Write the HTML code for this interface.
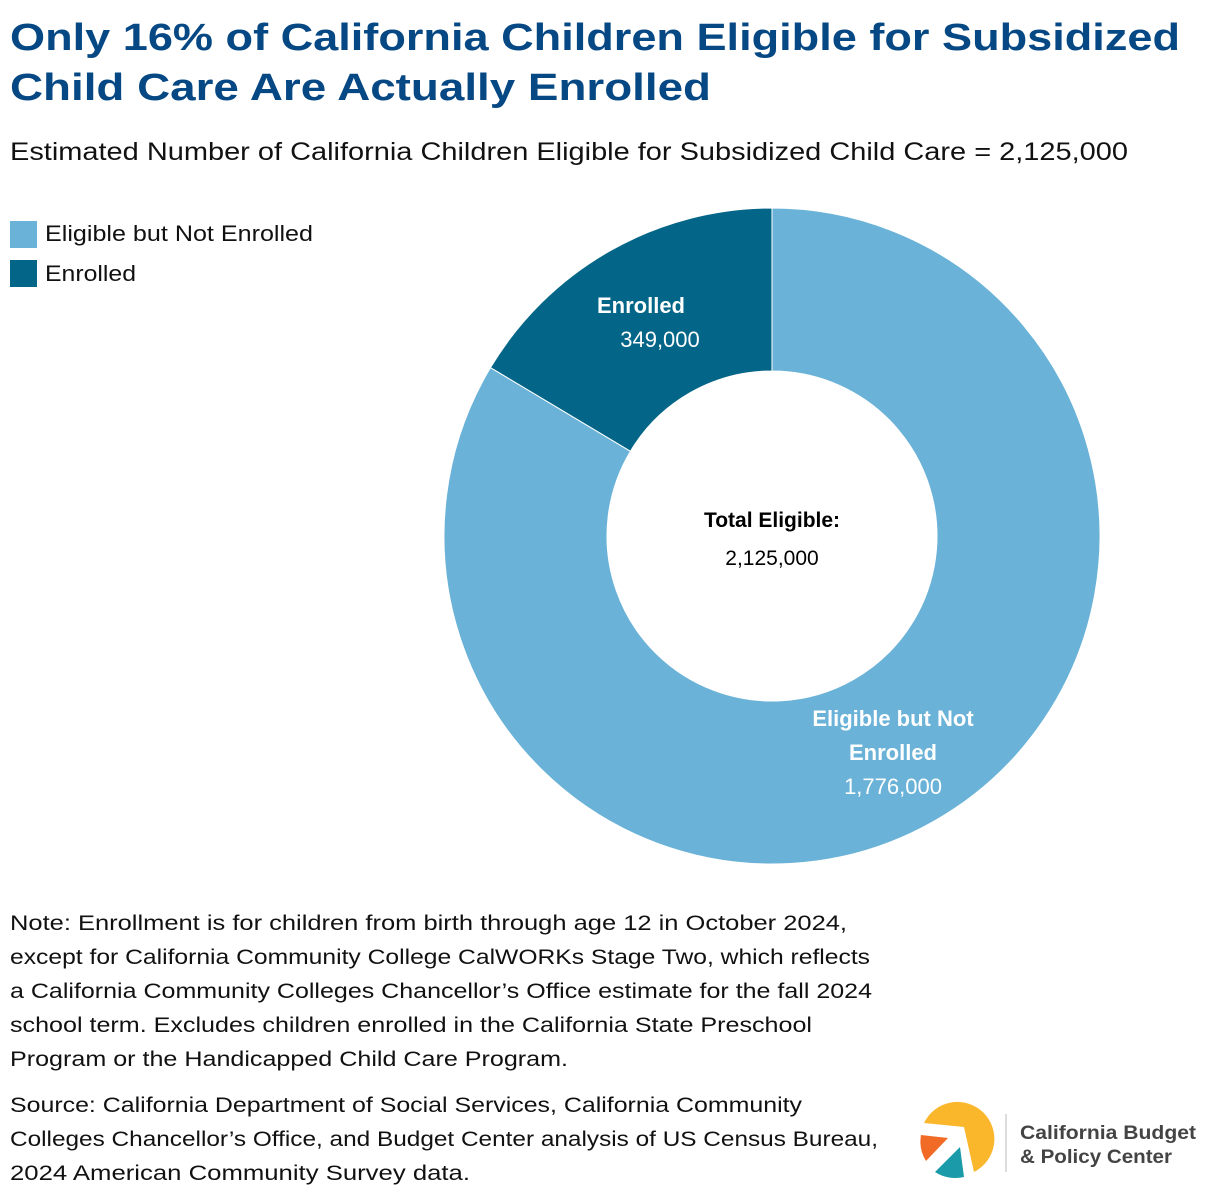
<!DOCTYPE html>
<html><head><meta charset="utf-8"><style>
body{margin:0;background:#fff}
svg{display:block;font-family:"Liberation Sans",sans-serif}
</style></head><body>
<svg width="1220" height="1198" viewBox="0 0 1220 1198">
<g fill="#064883" font-weight="bold" font-size="38">
<text x="10" y="50" textLength="1170" lengthAdjust="spacingAndGlyphs">Only 16% of California Children Eligible for Subsidized</text>
<text x="10" y="100" textLength="701" lengthAdjust="spacingAndGlyphs">Child Care Are Actually Enrolled</text>
</g>
<text x="10" y="160" font-size="25" fill="#111" textLength="1118" lengthAdjust="spacingAndGlyphs">Estimated Number of California Children Eligible for Subsidized Child Care = 2,125,000</text>
<g font-size="22" fill="#111">
<g><rect x="10" y="221" width="27" height="27" fill="#6ab2d7"/><text x="45" y="241" textLength="268" lengthAdjust="spacingAndGlyphs">Eligible but Not Enrolled</text></g>
<g><rect x="10" y="260" width="27" height="27" fill="#036587"/><text x="45" y="281" textLength="91" lengthAdjust="spacingAndGlyphs">Enrolled</text></g>
</g>
<g id="donut"></g>
<g text-anchor="middle" fill="#000" font-size="21">
<text x="772" y="527" font-weight="bold">Total Eligible:</text>
<text x="772" y="565">2,125,000</text>
</g>
<g font-size="21" fill="#111">
<text x="10" y="930" textLength="837" lengthAdjust="spacingAndGlyphs">Note: Enrollment is for children from birth through age 12 in October 2024,</text>
<text x="10" y="964" textLength="860" lengthAdjust="spacingAndGlyphs">except for California Community College CalWORKs Stage Two, which reflects</text>
<text x="10" y="998" textLength="862" lengthAdjust="spacingAndGlyphs">a California Community Colleges Chancellor’s Office estimate for the fall 2024</text>
<text x="10" y="1032" textLength="802" lengthAdjust="spacingAndGlyphs">school term. Excludes children enrolled in the California State Preschool</text>
<text x="10" y="1066" textLength="558" lengthAdjust="spacingAndGlyphs">Program or the Handicapped Child Care Program.</text>
</g>
<g font-size="21" fill="#111">
<text x="10" y="1112" textLength="792" lengthAdjust="spacingAndGlyphs">Source: California Department of Social Services, California Community</text>
<text x="10" y="1146" textLength="868" lengthAdjust="spacingAndGlyphs">Colleges Chancellor’s Office, and Budget Center analysis of US Census Bureau,</text>
<text x="10" y="1180" textLength="460" lengthAdjust="spacingAndGlyphs">2024 American Community Survey data.</text>
</g>
<g>
<path d="M924,1123 A37,37 0 1 1 974,1172 L964,1127 Z" fill="#fbb72c"/>
<path d="M921,1135 L948,1138 L926,1161 A37,37 0 0 1 921,1135 Z" fill="#f26b26"/>
<path d="M935,1172 L960,1147 L964,1177 A37,37 0 0 1 935,1172 Z" fill="#1b9aaa"/>
<line x1="1006" y1="1114" x2="1006" y2="1172" stroke="#bbb" stroke-width="1"/>
<text x="1020" y="1139" font-size="19" fill="#444" font-weight="bold" textLength="176" lengthAdjust="spacingAndGlyphs">California Budget</text>
<text x="1020" y="1163" font-size="19" fill="#444" font-weight="bold" textLength="152" lengthAdjust="spacingAndGlyphs">&amp; Policy Center</text>
</g>
<script>
const categories=["Enrolled","Eligible but Not Enrolled"];
const values=[349000,1776000];
const valueLabels=["349,000","1,776,000"];
const colors=["#036587","#6ab2d7"];
const ns="http://www.w3.org/2000/svg";
const g=document.getElementById("donut");
const cx=772,cy=536,R=328,r=165;
const total=values.reduce((a,b)=>a+b,0);
function pt(a,rad){return [cx+rad*Math.sin(a),cy-rad*Math.cos(a)];}
let start=0;
values.forEach((v,i)=>{
  const sweep=v/total*2*Math.PI;
  const a0=-start,a1=-(start+sweep);
  const large=sweep>Math.PI?1:0;
  const p0=pt(a0,R),p1=pt(a1,R),q1=pt(a1,r),q0=pt(a0,r);
  const p=document.createElementNS(ns,"path");
  p.setAttribute("d",`M${p0} A${R},${R} 0 ${large} 0 ${p1} L${q1} A${r},${r} 0 ${large} 1 ${q0} Z`);
  p.setAttribute("fill",colors[i]);p.setAttribute("stroke","#fff");p.setAttribute("stroke-width","1");
  
  
  g.appendChild(p);
  start+=sweep;
});
const lab=document.createElementNS(ns,"g");


lab.setAttribute("fill","#fff");lab.setAttribute("font-size","22");lab.setAttribute("text-anchor","middle");
function t(x,y,s,b){const e=document.createElementNS(ns,"text");e.setAttribute("x",x);e.setAttribute("y",y);if(b)e.setAttribute("font-weight","bold");e.textContent=s;lab.appendChild(e);}
t(641,313,categories[0],1);t(660,347,valueLabels[0]);
t(893,726,"Eligible but Not",1);t(893,760,"Enrolled",1);t(893,794,valueLabels[1]);
g.appendChild(lab);
</script>
</svg>
</body></html>
